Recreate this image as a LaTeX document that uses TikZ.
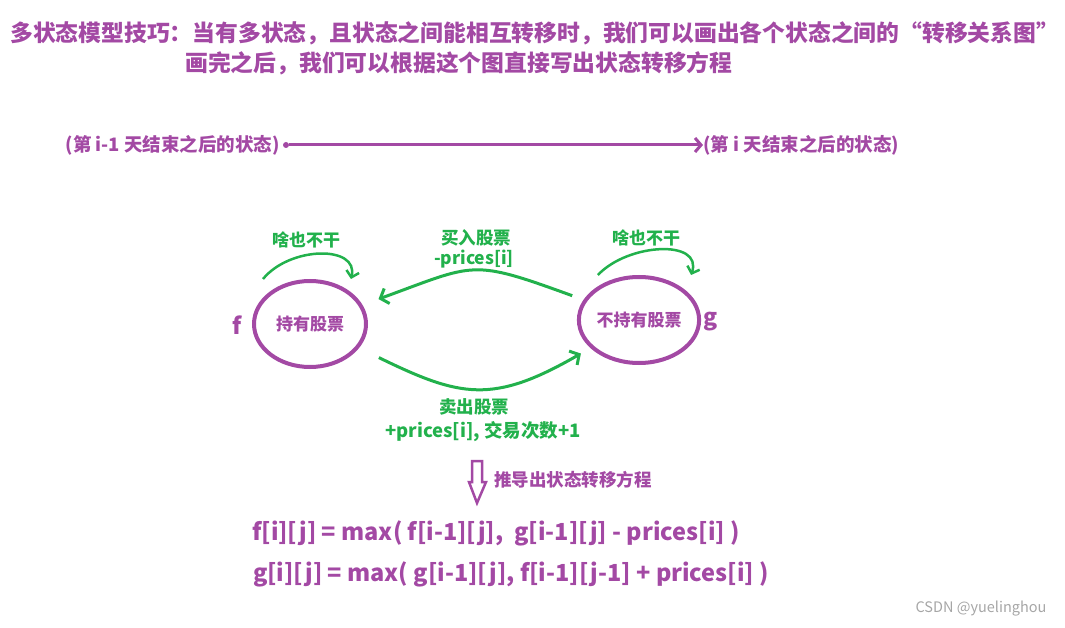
\documentclass[tikz,border=0pt]{standalone}
\usepackage{fontspec}
\setmainfont{Noto Sans CJK SC}
\usepackage{xcolor}
\usetikzlibrary{arrows.meta,shapes.geometric,calc}
\definecolor{stpurple}{HTML}{A349A4}
\definecolor{stgreen}{HTML}{22B14C}
\tikzset{
	state/.style={ellipse,draw=stpurple,line width=4pt,minimum width=112pt,minimum height=86pt,inner sep=0pt,text=stpurple,font=\fontsize{17}{20}\selectfont\bfseries},
	plabel/.style={text=stpurple,inner sep=0pt,font=\fontsize{17.5}{20}\selectfont\bfseries},
	glabel/.style={text=stgreen,inner sep=0pt,font=\fontsize{17.5}{20}\selectfont\bfseries},
	move/.style={draw=stgreen,line width=3pt,-{Straight Barb[length=7pt,width=16pt]}},
	idle/.style={draw=stgreen,line width=2.5pt,-{Straight Barb[length=6pt,width=13pt]}}
}
\begin{document}
\begin{tikzpicture}[x=1pt,y=-1pt]
	\useasboundingbox (0,0) rectangle (1065,628);
	\node[plabel,anchor=west,font=\fontsize{22.8}{26}\selectfont\bfseries] (title1) at (10,33) {多状态模型技巧：当有多状态，且状态之间能相互转移时，我们可以画出各个状态之间的“转移关系图”};
	\node[plabel,anchor=west,font=\fontsize{22.8}{26}\selectfont\bfseries] (title2) at (185,63) {画完之后，我们可以根据这个图直接写出状态转移方程};
	\node[plabel,anchor=east,font=\fontsize{18.5}{21}\selectfont\bfseries] (prev) at (280,145) {(第 i-1 天结束之后的状态)};
	\node[circle,fill=stpurple,inner sep=0pt,minimum size=6pt] (dot) at (286,145) {};
	\node[plabel,anchor=west,font=\fontsize{18.5}{21}\selectfont\bfseries] (next) at (703,145) {(第 i 天结束之后的状态)};
	\draw[stpurple,line width=3pt,-{Straight Barb[length=6pt,width=14pt]}] (dot) -- (next.west);
	\node[state] (hold) at (310,324) {持有股票};
	\node[state] (free) at (639,320) {不持有股票};
	\node[plabel,font=\fontsize{23}{26}\selectfont\bfseries] (f) at (237,325) {f};
	\node[plabel,font=\fontsize{23}{26}\selectfont\bfseries] (g) at (711,322) {g};
	\node[glabel,font=\fontsize{17}{20}\selectfont\bfseries] (idlef) at (306,240) {啥也不干};
	\node[glabel,font=\fontsize{17}{20}\selectfont\bfseries] (idleg) at (646,238) {啥也不干};
	\draw[idle] ([xshift=11pt]hold.north -| hold.west) .. controls +(27,-33) and +(8,-34) .. ([xshift=-17pt]hold.north -| hold.east);
	\draw[idle] ([xshift=21pt]free.north -| free.west) .. controls +(30,-32) and +(12,-36) .. ([xshift=-10pt]free.north -| free.east);
	\node[glabel] (buy) at (476,238) {买入股票};
	\node[glabel] (buyp) at (474,259) {-prices[i]};
	\draw[move,shorten <=12pt,shorten >=17pt] (free) to[out=160,in=20,looseness=1.4] (hold);
	\node[glabel] (sell) at (474,407) {卖出股票};
	\node[glabel,font=\fontsize{18.5}{21}\selectfont\bfseries] (sellp) at (483,432) {+prices[i], 交易次数+1};
	\draw[move,shorten <=22pt,shorten >=11pt] (hold) to[out=-26,in=210,looseness=1.25] (free);
	\draw[stpurple,line width=2.5pt] (472,461) -- (482,461) -- (482,482) -- (486,482) -- (477,503) -- (469,482) -- (472,482) -- cycle;
	\node[plabel,anchor=west] (derive) at (494,480) {推导出状态转移方程};
	\node[plabel,font=\fontsize{23.5}{26}\selectfont\bfseries] (eqf) at (496,533) {f[i][j] = max( f[i-1][j],\ \ g[i-1][j] - prices[i] )};
	\node[plabel,font=\fontsize{23.5}{26}\selectfont\bfseries] (eqg) at (511,574) {g[i][j] = max( g[i-1][j], f[i-1][j-1] + prices[i] )};
	\node[text=black!35,inner sep=0pt,font=\fontsize{14.5}{17}\selectfont] (mark) at (981,609) {CSDN @yuelinghou};
\end{tikzpicture}
\end{document}
